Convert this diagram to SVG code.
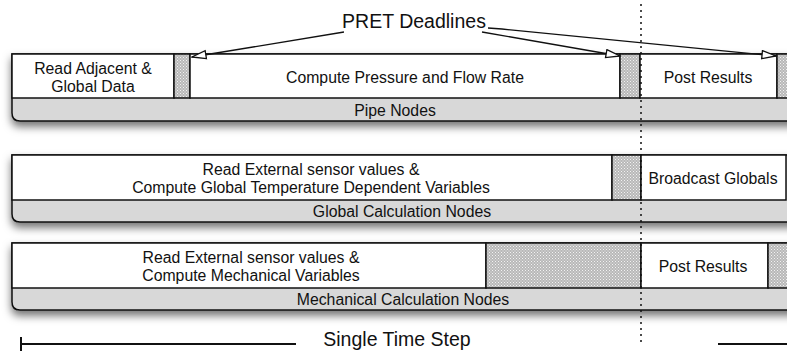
<svg xmlns="http://www.w3.org/2000/svg" width="787" height="351" viewBox="0 0 787 351">
<defs>
<pattern id="stip" width="3" height="3" patternUnits="userSpaceOnUse">
<rect width="3" height="3" fill="#b8b8b8"/>
<rect x="0" y="0" width="1" height="1" fill="#f2f2f2"/>
<rect x="1.5" y="1.5" width="1" height="1" fill="#eeeeee"/>
</pattern>
<filter id="sh" x="-5%" y="-20%" width="110%" height="160%">
<feDropShadow dx="0" dy="5" stdDeviation="4" flood-color="#000" flood-opacity="0.55"/>
</filter>
<marker id="open" markerWidth="16" markerHeight="12" refX="15" refY="5" orient="auto" markerUnits="userSpaceOnUse">
<path d="M1,1 L15,5 L1,9 Z" fill="#fff" stroke="#111" stroke-width="1.3"/>
</marker>
<style>
.base{fill:#d8d8d8;stroke:#111;stroke-width:1.5}
.blk{fill:#fff;stroke:#111;stroke-width:1.5}
.hat{fill:url(#stip);stroke:#111;stroke-width:1.5}
.t{font-family:"Liberation Sans",Arial,sans-serif;font-size:15.8px;fill:#111;text-anchor:middle}
.big{font-family:"Liberation Sans",Arial,sans-serif;font-size:19.5px;fill:#111;text-anchor:middle}
.ln{stroke:#111;stroke-width:1.3;fill:none}
</style>
</defs>
<rect width="787" height="351" fill="#fff"/>

<g id="pipe-nodes">
<path class="base" filter="url(#sh)" d="M12,54 H800 V121 H20 Q12,121 12,113 Z"/>
<rect class="blk" x="12" y="54" width="162" height="44"/>
<rect class="hat" x="174" y="54" width="16" height="44"/>
<rect class="blk" x="190" y="54" width="430" height="44"/>
<rect class="hat" x="620" y="54" width="20" height="44"/>
<rect class="blk" x="640" y="54" width="137" height="44"/>
<rect class="hat" x="777" y="54" width="20" height="44"/>
<text class="t" x="93" y="74">Read Adjacent &amp;</text>
<text class="t" x="93" y="92">Global Data</text>
<text class="t" x="405" y="83">Compute Pressure and Flow Rate</text>
<text class="t" x="708" y="83">Post Results</text>
<text class="t" x="395" y="116">Pipe Nodes</text>
</g>

<g id="global-calculation-nodes">
<path class="base" filter="url(#sh)" d="M12,155 H800 V222 H20 Q12,222 12,214 Z"/>
<rect class="blk" x="12" y="155" width="600" height="45"/>
<rect class="hat" x="612" y="155" width="29" height="45"/>
<rect class="blk" x="641" y="155" width="145" height="45"/>
<text class="t" x="311" y="175">Read External sensor values &amp;</text>
<text class="t" x="311" y="193">Compute Global Temperature Dependent Variables</text>
<text class="t" x="713" y="184">Broadcast Globals</text>
<text class="t" x="402" y="217">Global Calculation Nodes</text>
</g>

<g id="mechanical-calculation-nodes">
<path class="base" filter="url(#sh)" d="M12,243 H800 V310 H20 Q12,310 12,302 Z"/>
<rect class="blk" x="12" y="243" width="474" height="45"/>
<rect class="hat" x="486" y="243" width="155" height="45"/>
<rect class="blk" x="641" y="243" width="127" height="45"/>
<rect class="hat" x="768" y="243" width="30" height="45"/>
<text class="t" x="251" y="263">Read External sensor values &amp;</text>
<text class="t" x="251" y="281">Compute Mechanical Variables</text>
<text class="t" x="703" y="272">Post Results</text>
<text class="t" x="403" y="305">Mechanical Calculation Nodes</text>
</g>

<g id="pret-deadlines">
<text class="big" x="414" y="28">PRET Deadlines</text>
</g>

<g id="connectors">
<line class="ln" x1="344" y1="32" x2="192" y2="57" marker-end="url(#open)"/>
<line class="ln" x1="482" y1="32" x2="620" y2="56" marker-end="url(#open)"/>
<polyline class="ln" points="488,28 502,29 776,56" marker-end="url(#open)"/>
<line x1="641" y1="4" x2="641" y2="342" stroke="#111" stroke-width="1.5" stroke-dasharray="2,4"/>
</g>

<g id="single-time-step">
<line x1="21" y1="344" x2="296" y2="344" stroke="#111" stroke-width="2"/>
<line x1="21" y1="337" x2="21" y2="351" stroke="#111" stroke-width="2"/>
<line x1="718" y1="344" x2="787" y2="344" stroke="#111" stroke-width="2"/>
<text class="big" x="397" y="346">Single Time Step</text>
</g>
</svg>
